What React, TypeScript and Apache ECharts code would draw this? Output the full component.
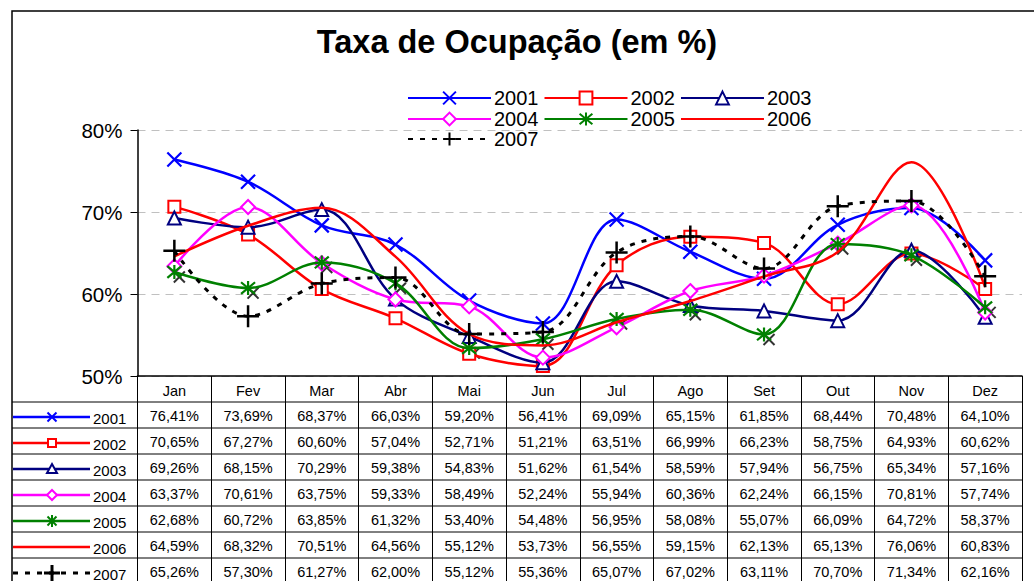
import React, { useEffect, useRef } from "react";
import * as echarts from "echarts";

const categories = ["Jan", "Fev", "Mar", "Abr", "Mai", "Jun", "Jul", "Ago", "Set", "Out", "Nov", "Dez"];
const yearNames = ["2001", "2002", "2003", "2004", "2005", "2006", "2007"];
const s2001 = [76.41, 73.69, 68.37, 66.03, 59.2, 56.41, 69.09, 65.15, 61.85, 68.44, 70.48, 64.1];
const s2002 = [70.65, 67.27, 60.6, 57.04, 52.71, 51.21, 63.51, 66.99, 66.23, 58.75, 64.93, 60.62];
const s2003 = [69.26, 68.15, 70.29, 59.38, 54.83, 51.62, 61.54, 58.59, 57.94, 56.75, 65.34, 57.16];
const s2004 = [63.37, 70.61, 63.75, 59.33, 58.49, 52.24, 55.94, 60.36, 62.24, 66.15, 70.81, 57.74];
const s2005 = [62.68, 60.72, 63.85, 61.32, 53.4, 54.48, 56.95, 58.08, 55.07, 66.09, 64.72, 58.37];
const s2006 = [64.59, 68.32, 70.51, 64.56, 55.12, 53.73, 56.55, 59.15, 62.13, 65.13, 76.06, 60.83];
const s2007 = [65.26, 57.3, 61.27, 62.0, 55.12, 55.36, 65.07, 67.02, 63.11, 70.7, 71.34, 62.16];
const yTicks = [50, 60, 70, 80];

const seriesValues = [s2001, s2002, s2003, s2004, s2005, s2006, s2007];

const FONT = "'Liberation Sans', Arial, sans-serif";
const colors = ["#0000FF", "#FF0000", "#000080", "#FF00FF", "#008000", "#FF0000", "#000000"];
const markers = ["x", "rect", "triangle", "diamond", "asterisk", "none", "plus"];

const X_PATH = "path://M0,0L10,10M10,0L0,10";
const AST_PATH = "path://M0,0L10,10M10,0L0,10M5,-1L5,11";
const PLUS_PATH = "path://M5,0L5,10M0,5L10,5";

function symbolFor(m: string) {
  switch (m) {
    case "x": return { symbol: X_PATH, size: 14 };
    case "rect": return { symbol: "emptyRect", size: 12 };
    case "triangle": return { symbol: "emptyTriangle", size: 13 };
    case "diamond": return { symbol: "emptyDiamond", size: 14 };
    case "asterisk": return { symbol: AST_PATH, size: 14 };
    case "plus": return { symbol: PLUS_PATH, size: 22 };
    default: return { symbol: "circle", size: 1 };
  }
}

function tableMarker(m: string, cx: number, cy: number, color: string): any[] {
  const s = 4.5;
  const st = { stroke: color, lineWidth: 2, fill: "none" };
  switch (m) {
    case "x":
      return [
        { type: "line", shape: { x1: cx - s, y1: cy - s, x2: cx + s, y2: cy + s }, style: st },
        { type: "line", shape: { x1: cx + s, y1: cy - s, x2: cx - s, y2: cy + s }, style: st },
      ];
    case "rect":
      return [{ type: "rect", shape: { x: cx - 4, y: cy - 4, width: 8, height: 8 }, style: { ...st, fill: "#fff" } }];
    case "triangle":
      return [{ type: "polygon", shape: { points: [[cx, cy - 5], [cx + 5, cy + 4], [cx - 5, cy + 4]] }, style: { ...st, fill: "#fff" } }];
    case "diamond":
      return [{ type: "polygon", shape: { points: [[cx, cy - 5], [cx + 5, cy], [cx, cy + 5], [cx - 5, cy]] }, style: { ...st, fill: "#fff" } }];
    case "asterisk":
      return [
        { type: "line", shape: { x1: cx - s, y1: cy - s, x2: cx + s, y2: cy + s }, style: st },
        { type: "line", shape: { x1: cx + s, y1: cy - s, x2: cx - s, y2: cy + s }, style: st },
        { type: "line", shape: { x1: cx, y1: cy - 6, x2: cx, y2: cy + 6 }, style: st },
      ];
    case "plus":
      return [
        { type: "line", shape: { x1: cx - 8, y1: cy, x2: cx + 8, y2: cy }, style: { ...st, lineWidth: 3 } },
        { type: "line", shape: { x1: cx, y1: cy - 8, x2: cx, y2: cy + 8 }, style: { ...st, lineWidth: 3 } },
      ];
    default:
      return [];
  }
}

const fmt = (v: number) => v.toFixed(2).replace(".", ",") + "%";

export default function App() {
  const ref = useRef<HTMLDivElement>(null);
  useEffect(() => {
    if (!ref.current) return;
    const chart = echarts.init(ref.current, null, { renderer: "svg" });

    const series: any[] = yearNames.map((name, i) => {
      const sym = symbolFor(markers[i]);
      const isPath = sym.symbol.startsWith("path://");
      const noMarker = markers[i] === "none";
      return {
        name,
        type: "line",
        data: seriesValues[i],
        smooth: 0.35,
        symbol: sym.symbol,
        symbolSize: sym.size,
        showSymbol: !noMarker,
        z: 2 + i,
        lineStyle: {
          color: colors[i],
          width: i === 6 ? 3 : 2.5,
          type: i === 6 ? [5, 7] : "solid",
        },
        itemStyle: noMarker
          ? { color: "rgba(0,0,0,0)", borderColor: "rgba(0,0,0,0)", borderWidth: 0 }
          : isPath
          ? { color: "rgba(0,0,0,0)", borderColor: colors[i], borderWidth: i === 6 ? 2.5 : 2.2 }
          : { color: colors[i], borderColor: colors[i], borderWidth: 2 },
        emphasis: { disabled: true },
      };
    });
    // secondary black cross marks drawn behind the 2005 markers
    series.push({
      name: "2005-shadow",
      type: "scatter",
      data: s2005,
      symbol: X_PATH,
      symbolSize: 11,
      symbolOffset: [5, 5],
      z: 1,
      itemStyle: { color: "rgba(0,0,0,0)", borderColor: "#000", borderWidth: 2 },
      emphasis: { disabled: true },
    });

    const mkLegend = (data: string[], top: number) => ({
      data,
      top,
      left: 407,
      itemWidth: 83,
      itemHeight: 16,
      itemGap: 5,
      padding: 0,
      textStyle: { fontSize: 20, fontFamily: FONT, color: "#000", padding: [0, 0, 0, -2] },
    });

    chart.setOption({
      animation: false,
      title: {
        text: "Taxa de Ocupação (em %)",
        left: "center",
        top: 25,
        padding: 0,
        textStyle: { fontSize: 32.5, fontWeight: "bold", fontFamily: FONT, color: "#000" },
      },
      legend: [
        mkLegend(yearNames.slice(0, 3), 88),
        mkLegend(yearNames.slice(3, 6), 109),
        mkLegend(yearNames.slice(6), 129),
      ],
      grid: { left: 137.5, right: 12, top: 130, bottom: 205, containLabel: false },
      xAxis: {
        type: "category",
        data: categories,
        boundaryGap: true,
        axisLine: { show: true, lineStyle: { color: "#000", width: 1.5 } },
        axisTick: { show: true, interval: 0, length: 210, lineStyle: { color: "#000", width: 1 } },
        axisLabel: { interval: 0, margin: 7, fontSize: 14.5, fontFamily: FONT, color: "#000" },
        splitLine: { show: false },
      },
      yAxis: {
        type: "value",
        min: yTicks[0],
        max: yTicks[yTicks.length - 1],
        interval: 10,
        axisLine: { show: true, lineStyle: { color: "#000", width: 1.5 } },
        axisTick: { show: true, length: 7, lineStyle: { color: "#000" } },
        axisLabel: { formatter: "{value}%", fontSize: 20.5, fontFamily: FONT, color: "#000", margin: 15 },
        splitLine: { show: true, lineStyle: { color: "#c0c0c0", type: [8, 6], width: 1 } },
      },
      series,
    });

    const centers = categories.map((_, c) => chart.convertToPixel({ xAxisIndex: 0 }, c) as number);
    const rightEdge = 1022;
    const rowTop = 402;
    const rowH = 26;
    const g: any[] = [];
    g.push({
      type: "rect",
      shape: { x: 12, y: 11, width: 1040, height: 600 },
      style: { fill: "none", stroke: "#000", lineWidth: 1.5 },
      silent: true,
    });
    for (let r = 0; r < yearNames.length; r++) {
      const y0 = rowTop + r * rowH;
      g.push({ type: "line", shape: { x1: 12, y1: y0, x2: rightEdge, y2: y0 }, style: { stroke: "#000", lineWidth: 1 }, silent: true });
      const cy = y0 + 15;
      g.push({
        type: "line",
        shape: { x1: 13, y1: cy, x2: 90, y2: cy },
        style: { stroke: colors[r], lineWidth: r === 6 ? 3 : 2.5, lineDash: r === 6 ? [5, 7] : null },
        silent: true,
      });
      g.push(...tableMarker(markers[r], 52, cy, colors[r]));
      g.push({
        type: "text",
        x: 93,
        y: y0 + 16,
        style: { text: yearNames[r], fontSize: 15, fontFamily: FONT, fill: "#000", align: "left", verticalAlign: "middle" },
        silent: true,
      });
      seriesValues[r].forEach((v, c) => {
        g.push({
          type: "text",
          x: centers[c],
          y: y0 + 13.5,
          style: { text: fmt(v), fontSize: 14.5, fontFamily: FONT, fill: "#000", align: "center", verticalAlign: "middle" },
          silent: true,
        });
      });
    }
    chart.setOption({ graphic: g });

    return () => chart.dispose();
  }, []);
  return <div ref={ref} style={{ position: "fixed", left: 0, top: 0, width: 1034, height: 581, background: "#fff" }} />;
}
